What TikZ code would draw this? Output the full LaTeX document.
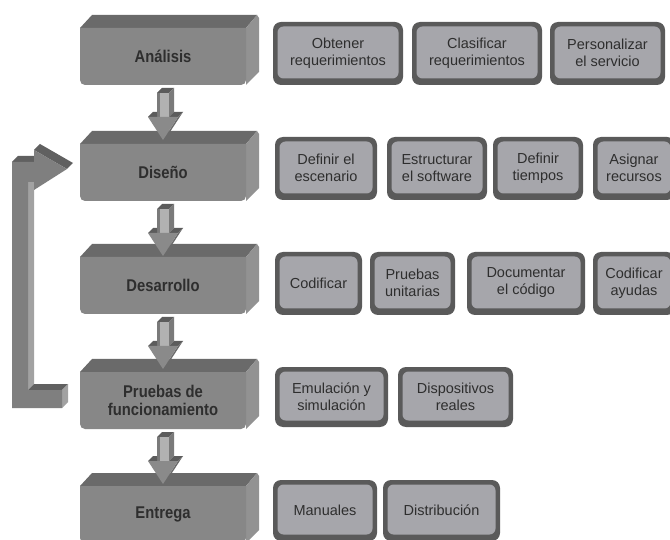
\documentclass[tikz,border=0pt]{standalone}
\usepackage{fontspec}
\setmainfont{Liberation Sans}
\newfontfamily\condfont[FakeStretch=0.87]{Liberation Sans}
\definecolor{topc}{HTML}{6A6A6A}
\definecolor{frontc}{HTML}{878787}
\definecolor{sidec}{HTML}{929292}
\definecolor{subdark}{HTML}{5A5A5A}
\definecolor{sublight}{HTML}{A6A6AB}
\definecolor{txt}{HTML}{2E2E2E}
\definecolor{arrdark}{HTML}{5C5C5C}
\definecolor{arrmid}{HTML}{8A8A8A}
\definecolor{arrlight}{HTML}{B2B2B2}
\definecolor{arrside}{HTML}{7A7A7A}
\definecolor{fbfront}{HTML}{7F7F7F}
\definecolor{fbtop}{HTML}{606060}
\definecolor{fbside}{HTML}{A2A2A2}
\tikzset{
  mainlbl/.style={font=\condfont\bfseries\fontsize{17}{18.5}\selectfont, text=txt, align=center, inner sep=0pt},
  sublbl/.style={font=\fontsize{14.5}{17}\selectfont, text=txt, align=center, inner sep=0pt}
}
\newcommand{\MainBox}[3]{%
  \fill[topc] (80,#1+14) -- (92,#1+1) -- (257,#1+1) -- (246,#1+14) -- cycle;
  \fill[sidec] (246,#1+14) -- (257,#1+1) -- (259,#1+4) -- (259,#1+58) -- (246,#1+71) -- cycle;
  \fill[frontc] (80,#1+14) -- (246,#1+14) [rounded corners=5] -- (246,#1+71) -- (80,#1+71) [sharp corners] -- cycle;
  \node[mainlbl] (#2) at (163,#1+42.5) {#3};
}
\newcommand{\SubBox}[6]{%
  \fill[subdark, rounded corners=8] (#1,#3) rectangle (#2,#4);
  \fill[sublight, rounded corners=6] ({#1+4.5},{#3+4.5}) rectangle ({#2-4.5},{#4-6.5});
  \node[sublbl] (#5) at ({(#1+#2)/2},{(#3+#4)/2-0.5}) {#6};
}
\newcommand{\DownArr}[1]{%
  \fill[arrdark] (157,#1+8) -- (162,#1+3) -- (174,#1+3) -- (169,#1+8) -- cycle;
  \fill[arrside] (169,#1+8) -- (174,#1+3) -- (174,#1+27) -- (169,#1+32) -- cycle;
  \fill[arrlight] (157,#1+8) rectangle (169,#1+32);
  \fill[arrside] (157,#1+8) rectangle (160,#1+32);
  \fill[arrdark] (148,#1+32) -- (153,#1+27) -- (157,#1+27) -- (157,#1+32) -- cycle;
  \fill[arrdark] (169,#1+32) -- (174,#1+27) -- (183,#1+27) -- (178,#1+32) -- cycle;
  \fill[topc] (178,#1+32) -- (183,#1+27) -- (168,#1+50) -- (163,#1+55) -- cycle;
  \fill[arrmid] (148,#1+32) -- (178,#1+32) -- (163,#1+55) -- cycle;
}
\begin{document}
\begin{tikzpicture}[x=1pt,y=-1pt]
\useasboundingbox[fill=white] (0,0) rectangle (670,540);
% main stage boxes
\MainBox{14}{analisis}{Análisis}
\MainBox{130}{diseno}{Diseño}
\MainBox{243}{desarrollo}{Desarrollo}
\MainBox{358}{pruebas}{Pruebas de\\funcionamiento}
\MainBox{472}{entrega}{Entrega}
% down arrows
\DownArr{85}
\DownArr{201}
\DownArr{314}
\DownArr{429}
% feedback arrow
\fill[fbtop] (12,162) -- (18,156) -- (40,156) -- (34,162) -- cycle;
\fill[fbtop] (34,150) -- (40,144) -- (73,163) -- (67,169) -- cycle;
\fill[fbside] (28,182) -- (34,176) -- (34,384) -- (28,390) -- cycle;
\fill[fbtop] (28,390) -- (34,384) -- (68,384) -- (62,390) -- cycle;
\fill[fbside] (62,390) -- (68,384) -- (68,402) -- (62,408) -- cycle;
\fill[fbfront] (12,408) -- (62,408) -- (62,390) -- (28,390) -- (28,182) -- (34,182) -- (34,190) -- (67,169) -- (34,150) -- (34,162) -- (12,162) -- cycle;
% sub boxes row 1
\SubBox{273}{403}{22}{85}{s11}{Obtener\\requerimientos}
\SubBox{412}{542}{22}{85}{s12}{Clasificar\\requerimientos}
\SubBox{550}{665}{22}{85}{s13}{Personalizar\\el servicio}
% row 2
\SubBox{275}{377}{137}{200}{s21}{Definir el\\escenario}
\SubBox{387}{487}{137}{200}{s22}{Estructurar\\el software}
\SubBox{493}{583}{137}{200}{s23}{Definir\\tiempos}
\SubBox{593}{675}{137}{200}{s24}{Asignar\\recursos}
% row 3
\SubBox{275}{362}{252}{315}{s31}{Codificar}
\SubBox{370}{455}{252}{315}{s32}{Pruebas\\unitarias}
\SubBox{467}{585}{252}{315}{s33}{Documentar\\el código}
\SubBox{593}{675}{252}{315}{s34}{Codificar\\ayudas}
% row 4
\SubBox{275}{388}{367}{427}{s41}{Emulación y\\simulación}
\SubBox{398}{513}{367}{427}{s42}{Dispositivos\\reales}
% row 5
\SubBox{273}{377}{480}{541}{s51}{Manuales}
\SubBox{383}{500}{480}{541}{s52}{Distribución}
\end{tikzpicture}
\end{document}
